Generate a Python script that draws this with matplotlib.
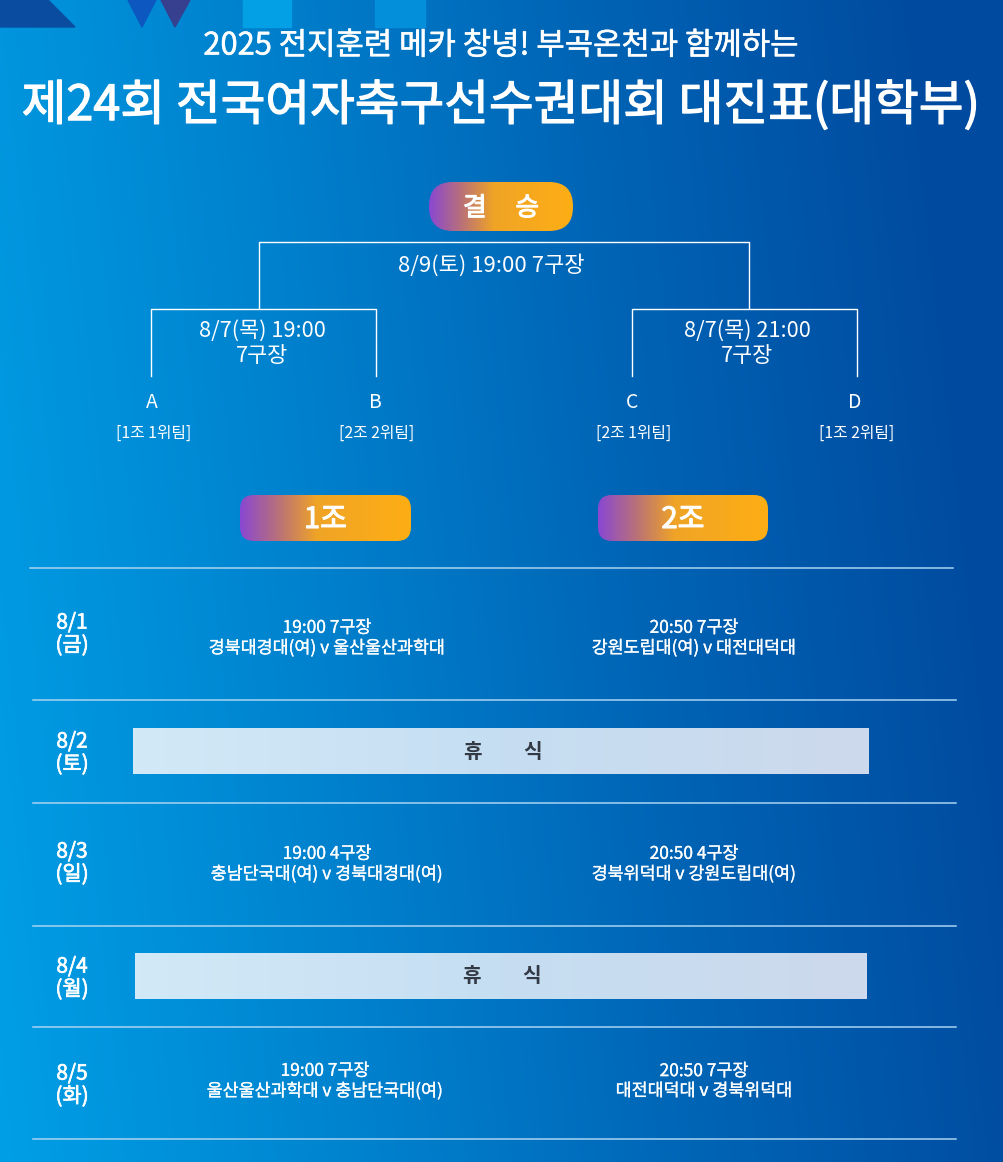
import numpy as np
import matplotlib
matplotlib.use("Agg")
from matplotlib import pyplot as plt
from matplotlib import patheffects as pe
from matplotlib.colors import LinearSegmentedColormap
from matplotlib.patches import FancyBboxPatch, Polygon, Rectangle

plt.rcParams['font.family'] = ['Noto Sans CJK KR', 'DejaVu Sans']

W, H = 1004, 1162

subtitle = "2025 전지훈련 메카 창녕! 부곡온천과 함께하는"
title = "제24회 전국여자축구선수권대회 대진표(대학부)"

final_label = "결     승"
final_info = "8/9(토) 19:00 7구장"
semi_info = ["8/7(목) 19:00\n7구장", "8/7(목) 21:00\n7구장"]
slots = ["A", "B", "C", "D"]
slot_teams = ["[1조 1위팀]", "[2조 2위팀]", "[2조 1위팀]", "[1조 2위팀]"]
groups = ["1조", "2조"]

dates = ["8/1\n(금)", "8/2\n(토)", "8/3\n(일)", "8/4\n(월)", "8/5\n(화)"]
left_games = ["19:00 7구장\n경북대경대(여) v 울산울산과학대", None,
              "19:00 4구장\n충남단국대(여) v 경북대경대(여)", None,
              "19:00 7구장\n울산울산과학대 v 충남단국대(여)"]
right_games = ["20:50 7구장\n강원도립대(여) v 대전대덕대", None,
               "20:50 4구장\n경북위덕대 v 강원도립대(여)", None,
               "20:50 7구장\n대전대덕대 v 경북위덕대"]
rest_label = "휴         식"

fig = plt.figure(figsize=(W / 100, H / 100), dpi=100)
ax = fig.add_axes([0, 0, 1, 1])
ax.set_xlim(0, W)
ax.set_ylim(H, 0)
ax.axis('off')

# background gradient, a bit diagonal
xx, yy = np.meshgrid(np.linspace(0, 1, 1004), np.linspace(0, 1, 1162))
grad = np.clip(xx * 0.95 + (1 - yy) * 0.12, 0, 1)
bg = LinearSegmentedColormap.from_list('bg', ['#009fe6', '#0083cf', '#0064b5', '#004a9f'], N=1024)
ax.imshow(grad, cmap=bg, extent=[0, W, H, 0], aspect='auto', vmin=0, vmax=1, zorder=0)

# decoration at the top
ax.add_patch(Polygon([(0, 0), (48, 0), (75, 27), (0, 27)], color='#0a4da0', zorder=1))
ax.add_patch(Polygon([(128, 0), (156, 0), (142, 27)], color='#0c58c0', zorder=1))
ax.add_patch(Polygon([(161, 0), (190, 0), (175, 27)], color='#36408f', zorder=1))
ax.add_patch(Rectangle((243, 0), 48, 27, color='#03a0e6', zorder=1))
ax.add_patch(Rectangle((375, 0), 50, 27, color='#038fd9', zorder=1))


# thin white outline, the poster font is heavier than the regular cut
def thick(width):
    return [pe.withStroke(linewidth=width, foreground='white')]


def pill(x0, y0, x1, y1, rad, label, size):
    patch = FancyBboxPatch((x0 + rad, y0 + rad), x1 - x0 - 2 * rad, y1 - y0 - 2 * rad,
                           boxstyle="round,pad=%f,rounding_size=%f" % (rad, rad),
                           fc='none', ec='none', zorder=2)
    ax.add_patch(patch)
    cm = LinearSegmentedColormap.from_list('p', [(0, '#8a48d2'), (0.22, '#b8707a'),
                                                 (0.45, '#f0a426'), (1, '#fdae14')])
    im = ax.imshow(np.linspace(0, 1, 200).reshape(1, -1), cmap=cm,
                   extent=[x0, x1, y1, y0], aspect='auto', zorder=2)
    im.set_clip_path(patch)
    ax.text((x0 + x1) / 2, (y0 + y1) / 2 + 2, label, color='white', fontsize=size,
            ha='center', va='center', zorder=3, path_effects=thick(0.8))


ax.text(501, 46, subtitle, color='white', fontsize=22.2, ha='center', va='center', path_effects=thick(0.4))
ax.text(501, 106, title, color='white', fontsize=35, ha='center', va='center', path_effects=thick(0.9))

pill(429, 182, 573, 231, 24, final_label, 18.5)
pill(240, 495, 411, 541, 14, groups[0], 21)
pill(598, 495, 768, 541, 14, groups[1], 21)

# bracket
ax.plot([259, 259, 749, 749], [308, 242, 242, 308], color='white', lw=1.0, zorder=2)
ax.plot([151, 151, 376, 376], [376, 309, 309, 376], color='white', lw=1.0, zorder=2)
ax.plot([632, 632, 857, 857], [376, 309, 309, 376], color='white', lw=1.0, zorder=2)

ax.text(491, 265, final_info, color='white', fontsize=15.9, ha='center', va='center')
ax.text(262, 343, semi_info[0], color='white', fontsize=15.7, ha='center', va='center', linespacing=1.18)
ax.text(747, 343, semi_info[1], color='white', fontsize=15.7, ha='center', va='center', linespacing=1.18)

slot_x = [152, 375, 632, 855]
team_x = [154, 377, 634, 857]
for i in range(4):
    ax.text(slot_x[i], 403, slots[i], color='white', fontsize=14, ha='center', va='center')
    ax.text(team_x[i], 433, slot_teams[i], color='white', fontsize=11.4, ha='center', va='center')

# schedule rows
rule_y = [568, 700, 803, 926, 1027, 1139]
rule_x0 = [30, 33, 33, 33, 33, 33]
rule_x1 = [953, 956, 956, 956, 956, 956]
for i in range(6):
    ax.plot([rule_x0[i], rule_x1[i]], [rule_y[i], rule_y[i]], color='#a9d4f2', lw=1.1, zorder=2)

date_y = [634, 753, 863, 978, 1085]
for i in range(5):
    ax.text(72, date_y[i], dates[i], color='white', fontsize=15, ha='center', va='center',
            linespacing=1.05, path_effects=thick(0.5))

left_x = [327, 0, 327, 0, 325]
right_x = [694, 0, 694, 0, 704]
game_y = [638, 0, 864, 0, 1081]
for i in range(5):
    if left_games[i] is None:
        continue
    ax.text(left_x[i], game_y[i], left_games[i], color='white', fontsize=12.5,
            ha='center', va='center', linespacing=1.13, path_effects=thick(0.2))
    ax.text(right_x[i], game_y[i], right_games[i], color='white', fontsize=12.5,
            ha='center', va='center', linespacing=1.13, path_effects=thick(0.2))

# rest day bars
rest_boxes = [(133, 728, 869, 774), (135, 953, 867, 999)]
rest_text_x = [503, 502]
rest_cm = LinearSegmentedColormap.from_list('r', ['#d2e9f7', '#c6def2', '#cdd9ec'])
for (x0, y0, x1, y1), tx in zip(rest_boxes, rest_text_x):
    ax.imshow(np.linspace(0, 1, 200).reshape(1, -1), cmap=rest_cm,
              extent=[x0, x1, y1, y0], aspect='auto', zorder=2)
    ax.text(tx, (y0 + y1) / 2, rest_label, color='#333a45', fontsize=14.5,
            fontweight='bold', ha='center', va='center', zorder=3)

ax.set_xlim(0, W)
ax.set_ylim(H, 0)
fig.savefig("out.png", dpi=100)
